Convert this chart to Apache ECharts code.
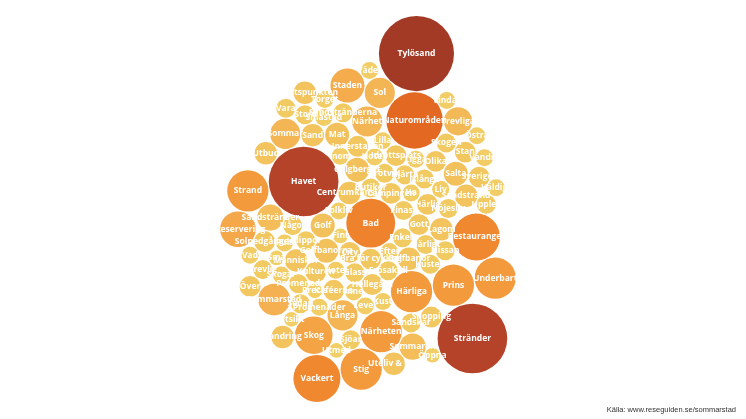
<!DOCTYPE html>
<html><head><meta charset="utf-8">
<script src="https://cdn.jsdelivr.net/npm/echarts@6/dist/echarts.min.js"></script>
<style>html,body{margin:0;padding:0;background:#fff}#c{width:746px;height:419px}</style>
</head><body><div id="c"></div>
<script>
// Words (bubbles), in alphabetical (Swedish) order, and their counts
const names = ['Bad','Bra för cykling','Butiker','Campingen','Centrumkänsla','City','Efter','Enkelt',
 'Finast','Fint','Folkliv','Frösakull','Frötvik','Galgberget','Glass','Golf','Golfbanor','Golfbanorna','Gott',
 'Ha','Havet','Hellegård','Hjärta','Hotel','Hotell','Härlig','Härliga','Härligt',
 'Idrottsplats','Inne','Innerstaden','Inom','Islånga','Kaféerna','Klippor','Kulturen','Kust','Kusten',
 'Lagom','Lever','Ligga','Lilla','Liv','Långa','Mat','Människor',
 'Naturområden','Nissan','Något','Närhet','Närheten','Nöjesliv','Olika',
 'Precis','Prins','Promenad','Promenader','Puls','Restauranger',
 'Salta','Sand','Sandskär','Sandstrand','Sandstränder','Sandstränderna','Sedan','Shopping','Sjöar',
 'Skog','Skogar','Skogen','Små','Småstad','Sol','Solnedgången','Sommar','Sommaren','Sommarstad',
 'Staden','Stan','Stig','Stort','Strand','Stränder','Sveriges',
 'Torget','Trevlig','Trevliga','Tylösand',
 'Underbart','Upplev','Utbud','Uteliv & Utö','Uteservering','Utmed','Utsikt','Utsiktspunkten',
 'Vackert','Vad','Vandra','Vandring','Vara','Vindar','Väder','Väldigt','Öppna','Östra','Över'];
const values = [66,12,10,12,14,12,8,10,
 10,6,8,10,10,16,10,16,14,16,12,
 8,134,12,10,8,8,12,47,10,
 12,8,12,8,10,12,10,12,8,10,
 14,8,8,8,8,25,16,14,
 88,10,10,25,47,10,12,
 6,47,10,8,8,61,
 16,14,10,14,19,10,10,12,10,
 39,8,10,6,8,25,12,25,19,28,
 32,12,47,10,47,134,12,
 8,10,22,156,
 47,10,14,14,35,6,6,14,
 61,8,8,14,10,8,8,8,6,8,12];
const sourceText = 'Källa: www.reseguiden.se/sommarstad';

// --- greedy circle packing in data order (computed layout, area proportional to value) ---
function pack(radii, ax, gap) {
  const placed = [];
  const metric = (x, y) => (x / ax) * (x / ax) + y * y;
  function fits(x, y, r) {
    for (let k = 0; k < placed.length; k++) {
      const c = placed[k], dx = x - c.x, dy = y - c.y, m = c.r + r + gap - 0.01;
      if (dx * dx + dy * dy < m * m) return false;
    }
    return true;
  }
  radii.forEach((r) => {
    if (!placed.length) { placed.push({x: 0, y: 0, r}); return; }
    let best = null, bestD = Infinity;
    const consider = (x, y) => { const d = metric(x, y); if (d < bestD && fits(x, y, r)) { bestD = d; best = [x, y]; } };
    for (let i = 0; i < placed.length; i++) {
      const a = placed[i], da = a.r + r + gap;
      for (let k = 0; k < 24; k++) { const t = k / 24 * 2 * Math.PI; consider(a.x + da * Math.cos(t), a.y + da * Math.sin(t)); }
      for (let j = i + 1; j < placed.length; j++) {
        const b = placed[j], db = b.r + r + gap;
        const dx = b.x - a.x, dy = b.y - a.y, d2 = dx * dx + dy * dy, d = Math.sqrt(d2);
        if (d === 0 || d > da + db || d < Math.abs(da - db)) continue;
        const l = (da * da - db * db + d2) / (2 * d), h = Math.sqrt(Math.max(0, da * da - l * l));
        const mx = a.x + l * dx / d, my = a.y + l * dy / d;
        consider(mx - h * dy / d, my + h * dx / d);
        consider(mx + h * dy / d, my - h * dx / d);
      }
    }
    placed.push({x: best[0], y: best[1], r});
  });
  return placed;
}

const radii = values.map(v => 3.2 * Math.sqrt(v));
const circles = pack(radii, 0.84, 1.2);
let x0 = Infinity, x1 = -Infinity, y0 = Infinity, y1 = -Infinity;
circles.forEach(c => { x0 = Math.min(x0, c.x - c.r); x1 = Math.max(x1, c.x + c.r); y0 = Math.min(y0, c.y - c.r); y1 = Math.max(y1, c.y + c.r); });
const W = 746, H = 419, cx = 368, cy = 209;
const s = Math.min(1, 320 / (x1 - x0), 386 / (y1 - y0));
const mx = (x0 + x1) / 2, my = (y0 + y1) / 2;
const data = circles.map((c, i) => ({
  name: names[i],
  value: [cx + (c.x - mx) * s, cy + (c.y - my) * s, values[i]],
  symbolSize: 2 * c.r * s
}));

const chart = echarts.init(document.getElementById('c'), null, {renderer: 'canvas'});
chart.setOption({
  animation: false,
  backgroundColor: '#ffffff',
  title: {text: sourceText, right: 5, top: 401, textStyle: {fontSize: 7.5, color: '#333', fontWeight: 'normal', fontFamily: 'Liberation Sans'}},
  grid: {left: 0, right: 0, top: 0, bottom: 0},
  xAxis: {type: 'value', min: 0, max: W, show: false},
  yAxis: {type: 'value', min: 0, max: H, inverse: true, show: false},
  visualMap: {show: false, type: 'continuous', dimension: 2, min: 6, max: 156,
    inRange: {color: ['#f2cf66', '#f5ad4e', '#f28f33', '#ea6e21', '#d05a24', '#b6442a', '#a33a26']}},
  series: [{
    type: 'scatter',
    data: data,
    itemStyle: {opacity: 1},
    label: {show: true, position: 'inside', formatter: '{b}', color: '#fff', fontSize: 8.5, fontWeight: 'bold', fontFamily: 'Open Sans'},
    emphasis: {disabled: true}
  }]
});
</script>
</body></html>
